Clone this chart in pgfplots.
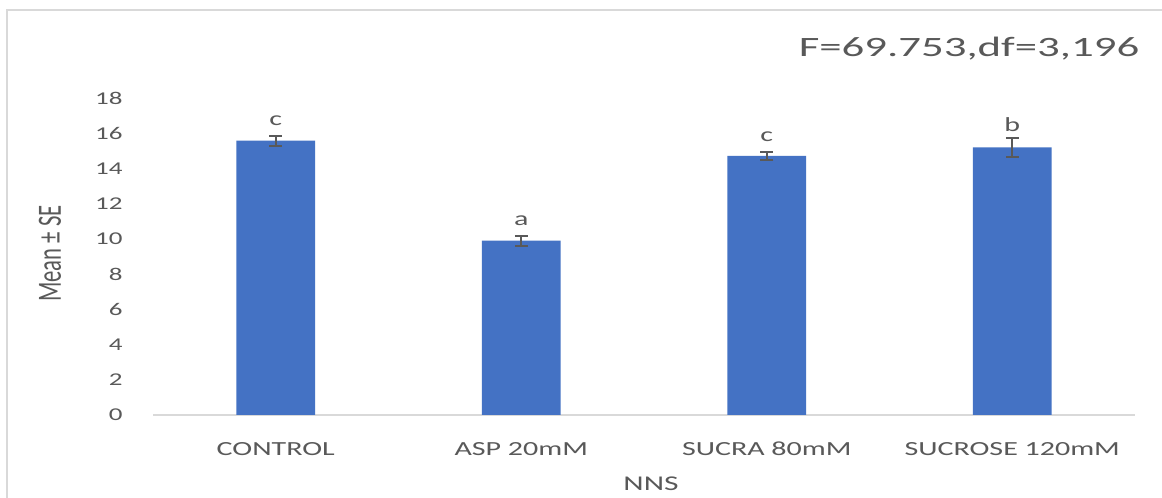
\documentclass[border=0pt]{standalone}
\usepackage{fontspec}
\usepackage{pgfplots}
\pgfplotsset{compat=1.18}
\setmainfont{Carlito}
\newfontfamily\calS[FakeStretch=1.5]{Carlito}
\newfontfamily\calF[FakeStretch=1.6]{Carlito}
\newfontfamily\calY[FakeStretch=0.667]{Carlito}
\definecolor{barblue}{HTML}{4472C4}
\definecolor{txtgray}{HTML}{595959}
\definecolor{linegray}{HTML}{D9D9D9}
\begin{document}
\begin{tikzpicture}
\useasboundingbox (0,0) rectangle (581pt,249pt);
\fill[white] (0,0) rectangle (581pt,249pt);
\draw[linegray, line width=1.2pt] (3.5pt,-2pt) -- (3.5pt,244pt) -- (583pt,244pt);
\begin{axis}[
  at={(76.5pt,41.5pt)}, anchor=south west,
  scale only axis,
  width=491pt, height=158.5pt,
  xmin=-0.5, xmax=3.5,
  ymin=0, ymax=18,
  ytick={0,2,...,18},
  xtick=data,
  xticklabels={CONTROL, ASP 20mM, SUCRA 80mM, SUCROSE 120mM},
  axis lines*=left,
  y axis line style={draw=none},
  x axis line style={draw=linegray, line width=1pt},
  major tick length=0pt,
  /pgf/number format/assume math mode=true,
  yticklabel style={font=\calS\fontsize{9}{10}\selectfont, text=txtgray, anchor=east, inner sep=0pt, xshift=-15pt},
  xticklabel style={font=\calS\fontsize{10}{12}\selectfont, text=txtgray, anchor=base, inner sep=0pt, yshift=-20.5pt},
  clip=false,
]
\addplot[ybar, bar width=0.32, fill=barblue, draw=none,
  error bars/.cd, y dir=both, y explicit,
  error bar style={color=txtgray, line width=1pt},
  error mark options={rotate=90, mark size=3.25pt, line width=1pt, color=txtgray}]
  coordinates {
  (0,15.58) +- (0,0.28)
  (1,9.90) +- (0,0.28)
  (2,14.71) +- (0,0.23)
  (3,15.20) +- (0,0.54)
  };
\node[anchor=base, text=txtgray, font=\calS\fontsize{10}{12}\selectfont] at (axis cs:0,15.86) [yshift=5pt] {c};
\node[anchor=base, text=txtgray, font=\calS\fontsize{10}{12}\selectfont] at (axis cs:1,10.18) [yshift=5pt] {a};
\node[anchor=base, text=txtgray, font=\calS\fontsize{10}{12}\selectfont] at (axis cs:2,14.94) [yshift=5pt] {c};
\node[anchor=base, text=txtgray, font=\calS\fontsize{10}{12}\selectfont] at (axis cs:3,15.74) [yshift=3pt] {b};
\end{axis}
\node[anchor=base, text=txtgray, font=\calS\fontsize{10.5}{12}\selectfont, inner sep=0pt] at (325.5pt,4pt) {NNS};
\node[rotate=90, text=txtgray, font=\calY\fontsize{17}{20}\selectfont, inner sep=0pt] at (25pt,122.25pt) {Mean ± SE};
\node[anchor=base, text=txtgray, font=\calF\fontsize{14}{16}\selectfont, inner sep=0pt] at (484.5pt,220.5pt) {F=69.753,df=3,196};
\end{tikzpicture}
\end{document}
